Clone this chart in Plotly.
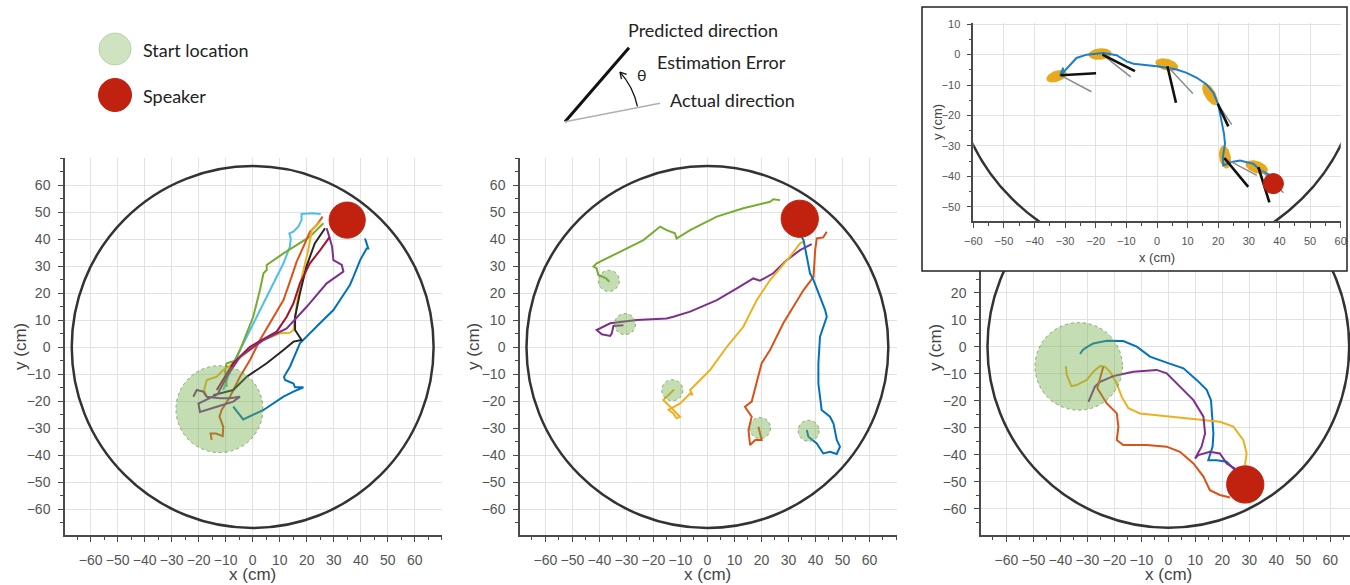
import numpy as np
import plotly.graph_objects as go

W, H = 1350, 585

# ---------------- DATA ----------------
ROOM_R = 67
# Panel 1 (single start area)
P1_START = (-12.3, -23.0, 16.1)   # cx, cy, r
P1_SPEAKER = (35.0, 47.0, 6.7)
P1_BLUE_X = [-7.2, -3.5, 4, 11.4, 15.1, 18.8, 15.7, 15.1, 12, 11.6, 13.8, 17.5, 24.9, 29.9, 34.8, 36, 37.3, 39.8, 42.2, 42.8, 42.2, 41.6]
P1_BLUE_Y = [-22.1, -26.8, -23.3, -18.4, -16.5, -14.9, -14.9, -13.5, -12.2, -11, -7.3, 1.4, 8.8, 13.7, 21.1, 23, 26, 32.2, 36.5, 36.5, 38.4, 40.2]
P1_LBLUE_X = [-10.9, -7.2, -2.2, 1.5, 6.4, 11.4, 13.8, 14.1, 13.6, 15.1, 16.9, 18.1, 18.1, 21.9, 25.2]
P1_LBLUE_Y = [-15.9, -6, 3.8, 11.2, 21.1, 31, 37.2, 40.2, 42.1, 42.7, 44.6, 47, 49.3, 49.5, 49.3]
P1_GREEN_X = [-9.6, -10.2, -9.6, -6.5, -4.7, 0.2, 2.7, 4, 5.2, 5.2, 11.4, 17.5, 21.2, 24.3, 26.2]
P1_GREEN_Y = [-14.7, -8.5, -6, -5.1, -1.1, 11.2, 21.1, 27.3, 28.5, 30.4, 34.7, 38.4, 40.9, 44, 45.8]
P1_ORANGE_X = [-15.2, -15.6, -13.6, -11.1, -10.9, -12.3, -11.5, -8.4, -4.7, -1, 2.7, 7.7, 11.4, 13.8, 16.3, 18.8, 21.2, 23.7, 25.9]
P1_ORANGE_Y = [-34.4, -32, -32, -33, -29.5, -25.8, -23.3, -18.4, -11, -4.8, 2.6, 11.2, 17.4, 24.2, 31.6, 37.2, 42.7, 45.2, 48.3]
P1_YELLOW_X = [-17, -18, -17, -13.3, -10.9, -7.2, -1, 4, 10.1, 13.8, 15.1, 15.7, 16.9, 18.8, 20.6, 21.9, 25]
P1_YELLOW_Y = [-18.4, -15.9, -12.2, -11, -8.5, -6, -1.1, 2.6, 5.1, 5.3, 6.3, 11.2, 19.9, 28.5, 35.9, 43.3, 46.4]
P1_BLACK_X = [-14.6, -7.2, -2.2, 5.2, 11.4, 15.1, 18.1, 16.9, 15.7, 15.7, 17.5, 19.9, 23, 26.8]
P1_BLACK_Y = [-17.8, -15.9, -11, -6, -1.1, 2, 2.6, 4.4, 6.3, 11.2, 19.9, 29.8, 38.4, 44]
P1_DRED_X = [-13.3, -7.2, -1, 5.2, 8.9, 12.6, 15.1, 17.5, 21.2, 25, 28.6]
P1_DRED_Y = [-15.9, -6, 0.1, 3.8, 5.7, 11.2, 16.2, 23.6, 31, 35.9, 40.9]
P1_PURPLE_X = [-22, -20.7, -18.3, -17, -12.1, -8.4, -4.7, -7.2, -13.3, -19.5, -20.1, -13, -9.6, -4.7, 4, 12.6, 20, 27.4, 33.6, 33, 29.9, 29.4, 28, 27.4]
P1_PURPLE_Y = [-18.4, -15.9, -16.5, -18.4, -19, -19, -18.4, -20.2, -22.1, -24, -20.9, -17.5, -11, -3.6, 2.6, 6.9, 14.9, 23.6, 27.9, 30.4, 32.2, 37.2, 42.1, 44]

# Panel 2 (several start points)
P2_STARTS_X = [-36.5, -30.5, -13, 19.5, 37.5]
P2_STARTS_Y = [24.5, 8.5, -16, -30, -31]
P2_START_R = 3.9
P2_SPEAKER = (34.2, 47.5, 6.9)
P2_GREEN_X = [-36.3, -37.5, -40.4, -41, -42.2, -41, -31.1, -23.7, -17.5, -15.1, -12, -11.4, -6.4, 3.5, 13.3, 23.2, 24.4, 26.9]
P2_GREEN_Y = [24.2, 25.4, 26.7, 29.1, 29.8, 31, 35.9, 39.6, 44.6, 43.3, 42.1, 40.2, 43.3, 48.3, 51.4, 53.8, 54.7, 54.4]
P2_PURPLE_X = [-31.1, -34.8, -35.4, -36, -39.1, -40.4, -41, -36, -26.2, -15.1, -12.6, -6.4, 3.5, 10.9, 17, 19.5, 24.4, 29.4, 34.3, 38.6]
P2_PURPLE_Y = [8.1, 7.8, 5.1, 4.1, 4.7, 5.7, 6.3, 8.8, 10, 10.6, 11.2, 13.1, 17.4, 21.7, 25.4, 24.6, 27.3, 32.2, 35.9, 38.1]
P2_YELLOW_X = [-12.3, -16.3, -13.8, -10.1, -11.4, -12.6, -14.4, -10.1, -6.4, -5.5, -6.4, 1, 7.2, 13.3, 18.3, 23.2, 30.6, 34.3, 35.6]
P2_YELLOW_Y = [-15.7, -19.6, -22.1, -25.8, -26.4, -24.6, -23.3, -20.9, -17.2, -17.8, -15.9, -8.5, 0.1, 7.5, 17.4, 24.8, 33.5, 38.4, 39]
P2_ORANGE_X = [18.9, 20.1, 17.7, 15.8, 15.2, 16.4, 13.9, 16.4, 20.1, 23.2, 28.1, 35.6, 39.3, 39.9, 40.5, 42.9, 44.2]
P2_ORANGE_Y = [-29.5, -34.4, -34.4, -36.3, -30.7, -25.8, -22.1, -20.2, -6, -1.1, 8.8, 21.1, 26, 35.9, 40.2, 40.6, 42.7]
P2_BLUE_X = [36.8, 37.4, 40.5, 42.9, 45.4, 47.9, 49.1, 47.9, 46.7, 45.4, 42.3, 41.1, 41.1, 41.7, 44.2, 43.6, 39.3, 38, 36.8, 35.6, 35]
P2_BLUE_Y = [-30.7, -33.2, -35.7, -39.4, -38.8, -39.6, -36.9, -34.4, -28.3, -25.8, -23.3, -13.5, -6, 3.8, 11.2, 13.7, 24.8, 27.3, 33.5, 39.6, 40.6]

# Panel 3
P3_START = (-33.2, -7.3, 16.2)
P3_SPEAKER = (28.5, -51.0, 6.9)
P3_BLUE_X = [-32.7, -31.7, -30.2, -27.8, -22.8, -16.7, -11.7, -6.8, -0.6, 5.6, 10.5, 14.2, 15.8, 16.2, 16.7, 16.4, 14.8, 17.9, 21.6, 24.7, 26.5]
P3_BLUE_Y = [-2.7, -1.2, -0.2, 1.2, 2.2, 2.1, 0, -3.7, -5.9, -8, -12.3, -16, -19.8, -24.7, -32.1, -37, -42, -42, -42.6, -45.7, -46.9]
P3_YELLOW_X = [-38, -37.6, -35.9, -34, -30.2, -27.8, -25.3, -23.5, -21.6, -19.1, -17.3, -14.8, -10.5, 1.9, 14.2, 19.1, 24.1, 27.8, 29, 28.4]
P3_YELLOW_Y = [-7.2, -10.5, -14.6, -14.2, -12.3, -9.3, -7.2, -7.4, -9.3, -13.6, -18.5, -22.8, -24.7, -25.9, -27.2, -27.8, -29.6, -34.6, -39.5, -43.8]
P3_PURPLE_X = [-29.6, -28.4, -27.2, -25.3, -20.4, -13, -4.3, -0.6, 4.3, 9.3, 13, 13.6, 12.3, 9.9, 11.1, 15.4, 19.1, 21.6, 24.7]
P3_PURPLE_Y = [-20.4, -17.3, -14.8, -13, -10.9, -9.3, -8.6, -9.9, -14.8, -19.8, -25.9, -32.1, -37, -41.4, -40.1, -38.9, -39.5, -43.2, -45.1]
P3_ORANGE_X = [-24.1, -26.3, -22.8, -19.1, -18.5, -19.1, -16.7, -8, -0.6, 4.3, 9.3, 13, 15.4, 19.1, 22.8]
P3_ORANGE_Y = [-7.4, -15.4, -21, -24.7, -29.6, -34.6, -36.4, -36.4, -37, -38.9, -43.2, -48.1, -53.1, -54.9, -55.8]

# Inset
IN_BLUE_X = [-31.7, -30.6, -31.2, -29.5, -27.9, -26.3, -23, -20.3, -17.5, -13.2, -9.9, -7.7, -4.5, -0.1, 3.2, 6.4, 9.7, 13, 16.2, 18.4, 20, 21.1, 21.9, 22.2, 21.5, 21.7, 24.4, 27.1, 31.5, 33.7, 35.9, 38]
IN_BLUE_Y = [-7.1, -4.3, -6.5, -4.5, -2.7, -1.1, 0, 0.2, 0.5, -0.2, -2.2, -3, -3.3, -3.8, -4.3, -4.9, -6, -7.6, -9.8, -12.5, -16.3, -21.7, -26.1, -29.3, -33.7, -36.4, -35.3, -34.8, -35.9, -38, -39.1, -40.2]
EST_X0 = [-31.5, -17.8, 3.4, 19.8, 22.0, 33.1]
EST_Y0 = [-6.8, 0.0, -3.8, -16.1, -34.0, -37.0]
PRED_X1 = [-19.9, -7.2, 6.2, 23.3, 29.8, 36.7]
PRED_Y1 = [-6.1, -5.4, -15.8, -23.6, -43.5, -48.6]
ACT_X1 = [-21.4, -8.6, 11.7, 24.4, 32.6, 41.3]
ACT_Y1 = [-12.2, -7.3, -12.8, -23.0, -39.7, -45.4]
ELL_X = [-32.8, -18.6, 3.2, 17.3, 22.2, 32.6]
ELL_Y = [-7.1, 0.2, -3.3, -13.0, -33.7, -37.0]
ELL_A = [3.5, 3.8, 3.8, 4.0, 3.8, 3.8]
ELL_B = [1.8, 1.9, 1.9, 1.8, 1.9, 2.0]
ELL_ANG = [20, 5, -15, -60, -80, -20]
IN_SPEAKER = (38.0, -42.4, 3.3)

MAJOR_TICKS = list(range(-60, 61, 10))

C = dict(blue="#0072BD", orange="#D95319", yellow="#EDB120", purple="#7E2F8E",
         green="#77AC30", lblue="#4DBEEE", dred="#A2142F", black="#262626")
RED = "#C1210F"
START_FILL = "rgba(115,175,75,0.42)"
START_LINE = "rgba(95,140,70,0.7)"
AX = "#4a4a4a"
TICKC = "#555555"
GRID = "#e2e2e2"

def px(x):
    return x / W

def py(y):
    return 1 - y / H

fig = go.Figure()

def add_line(xs, ys, color, xa, ya, width=2.0):
    fig.add_trace(go.Scatter(x=xs, y=ys, mode="lines", line=dict(color=color, width=width),
                             xaxis=xa, yaxis=ya, hoverinfo="skip", showlegend=False))

# panel 1
for k, xs, ys in [("blue", P1_BLUE_X, P1_BLUE_Y), ("lblue", P1_LBLUE_X, P1_LBLUE_Y),
                  ("green", P1_GREEN_X, P1_GREEN_Y), ("orange", P1_ORANGE_X, P1_ORANGE_Y),
                  ("yellow", P1_YELLOW_X, P1_YELLOW_Y), ("black", P1_BLACK_X, P1_BLACK_Y),
                  ("dred", P1_DRED_X, P1_DRED_Y), ("purple", P1_PURPLE_X, P1_PURPLE_Y)]:
    add_line(xs, ys, C[k], "x", "y")
# panel 2
for k, xs, ys in [("green", P2_GREEN_X, P2_GREEN_Y), ("purple", P2_PURPLE_X, P2_PURPLE_Y),
                  ("yellow", P2_YELLOW_X, P2_YELLOW_Y), ("orange", P2_ORANGE_X, P2_ORANGE_Y),
                  ("blue", P2_BLUE_X, P2_BLUE_Y)]:
    add_line(xs, ys, C[k], "x2", "y2")
# panel 3
for k, xs, ys in [("blue", P3_BLUE_X, P3_BLUE_Y), ("yellow", P3_YELLOW_X, P3_YELLOW_Y),
                  ("purple", P3_PURPLE_X, P3_PURPLE_Y), ("orange", P3_ORANGE_X, P3_ORANGE_Y)]:
    add_line(xs, ys, C[k], "x3", "y3")

# inset ellipses
t = np.linspace(0, 2 * np.pi, 60)
for cx, cy, a, b, ang in zip(ELL_X, ELL_Y, ELL_A, ELL_B, ELL_ANG):
    th = np.deg2rad(ang)
    ex = cx + a * np.cos(t) * np.cos(th) - b * np.sin(t) * np.sin(th)
    ey = cy + a * np.cos(t) * np.sin(th) + b * np.sin(t) * np.cos(th)
    fig.add_trace(go.Scatter(x=ex, y=ey, mode="lines", fill="toself", fillcolor="#E9A91C",
                             line=dict(width=0, color="#E9A91C"), xaxis="x4", yaxis="y4",
                             hoverinfo="skip", showlegend=False))
add_line(IN_BLUE_X, IN_BLUE_Y, "#1A7FC8", "x4", "y4", 2)

def seg(x0, y0, x1, y1):
    xs, ys = [], []
    for a, b, c, d in zip(x0, y0, x1, y1):
        xs += [a, c, None]
        ys += [b, d, None]
    return xs, ys

gx, gy = seg(EST_X0, EST_Y0, ACT_X1, ACT_Y1)
add_line(gx, gy, "#8c8c8c", "x4", "y4", 1.5)
bx, by = seg(EST_X0, EST_Y0, PRED_X1, PRED_Y1)
add_line(bx, by, "#111111", "x4", "y4", 2.6)

# ---------------- axes ----------------
def axis(domain, rng, anchor, tickvals, fs=14, standoff=6):
    return dict(domain=domain, range=rng, anchor=anchor, tickmode="array", tickvals=tickvals,
                automargin=False,
                showgrid=True, gridcolor=GRID, gridwidth=1, zeroline=False,
                showline=True, linecolor=AX, linewidth=1.5,
                ticks="outside", ticklen=5, tickwidth=1.4, tickcolor=AX,
                ticklabelstandoff=standoff,
                tickfont=dict(family="Liberation Sans", size=fs, color=TICKC),
                minor=dict(tickmode="linear", tick0=0, dtick=5, ticks="outside", ticklen=3,
                           tickwidth=1.2, tickcolor=AX, showgrid=False),
                fixedrange=True)

Y_DOM = [py(535), py(158)]
fig.update_layout(
    xaxis=axis([px(65), px(441.7)], [-69.5, 70], "y", MAJOR_TICKS),
    yaxis=axis(Y_DOM, [-69.6, 70], "x", MAJOR_TICKS, standoff=5),
    xaxis2=axis([px(520), px(896.7)], [-69.4, 70.1], "y2", MAJOR_TICKS),
    yaxis2=axis(Y_DOM, [-69.6, 70], "x2", MAJOR_TICKS, standoff=5),
    xaxis3=axis([px(981), 1.0], [-69.4, 67.3], "y3", MAJOR_TICKS),
    yaxis3=axis([py(535), py(271)], [-69.7, 28.0], "x3", list(range(-60, 21, 10)), standoff=5),
    xaxis4=axis([px(973.3), px(1340.7)], [-60, 60], "y4", MAJOR_TICKS, fs=11, standoff=4),
    yaxis4=axis([py(221), py(22.7)], [-54.7, 10.5], "x4", list(range(-50, 11, 10)), fs=11, standoff=4),
)

shapes = []
# inset box background
shapes.append(dict(type="rect", xref="paper", yref="paper", x0=px(922), x1=px(1347), y0=py(271), y1=py(7),
                   fillcolor="white", line=dict(width=0), layer="below"))
shapes.append(dict(type="rect", xref="paper", yref="paper", x0=px(922), x1=px(1347), y0=py(271), y1=py(7),
                   fillcolor="rgba(0,0,0,0)", line=dict(color="#222", width=1.5), layer="above"))

def circ(xr, yr, cx, cy, r, fill, line_color, lw=1, dash="solid", layer="above"):
    return dict(type="circle", xref=xr, yref=yr, x0=cx - r, x1=cx + r, y0=cy - r, y1=cy + r,
                fillcolor=fill, line=dict(color=line_color, width=lw, dash=dash), layer=layer)

for xr, yr in [("x", "y"), ("x2", "y2"), ("x3", "y3"), ("x4", "y4")]:
    shapes.append(circ(xr, yr, 0, 0, ROOM_R, "rgba(0,0,0,0)", "#333333", 2.5))

shapes.append(circ("x", "y", *P1_START, START_FILL, START_LINE, 1, "dot"))
shapes.append(circ("x", "y", *P1_SPEAKER, RED, RED, 1))
for cx, cy in zip(P2_STARTS_X, P2_STARTS_Y):
    shapes.append(circ("x2", "y2", cx, cy, P2_START_R, START_FILL, START_LINE, 1, "dot"))
shapes.append(circ("x2", "y2", *P2_SPEAKER, RED, RED, 1))
shapes.append(circ("x3", "y3", *P3_START, START_FILL, START_LINE, 1, "dot"))
shapes.append(circ("x3", "y3", *P3_SPEAKER, RED, RED, 1))
shapes.append(circ("x4", "y4", *IN_SPEAKER, RED, RED, 1))

# top-left legend markers (pixel positions -> paper)
def pcirc(cx, cy, r, fill, lc):
    return dict(type="circle", xref="paper", yref="paper", x0=px(cx - r), x1=px(cx + r),
                y0=py(cy + r), y1=py(cy - r), fillcolor=fill, line=dict(color=lc, width=1))

shapes.append(pcirc(115, 49, 16, "#cfe3c0", "#b9d3a7"))
shapes.append(pcirc(115, 95, 16.5, RED, RED))

# direction diagram
O = (565, 121.7)
shapes.append(dict(type="line", xref="paper", yref="paper", x0=px(O[0]), y0=py(O[1]),
                   x1=px(629), y1=py(47.7), line=dict(color="#111", width=3)))
shapes.append(dict(type="line", xref="paper", yref="paper", x0=px(O[0]), y0=py(O[1]),
                   x1=px(660), y1=py(103.3), line=dict(color="#b0b0b0", width=1.5)))
R_ARC, A0, A1 = 74, 12, 42
def arcpt(ang, r=R_ARC):
    a = np.deg2rad(ang)
    return O[0] + r * np.cos(a), O[1] - r * np.sin(a)
p0 = arcpt(A0)
p1 = arcpt(A1)
pc = arcpt((A0 + A1) / 2, R_ARC / np.cos(np.deg2rad((A1 - A0) / 2)))
shapes.append(dict(type="path", xref="paper", yref="paper",
                   path=f"M {px(p0[0])},{py(p0[1])} Q {px(pc[0])},{py(pc[1])} {px(p1[0])},{py(p1[1])}",
                   line=dict(color="#111", width=1.3)))
a1 = np.deg2rad(A1)
back = np.array([np.sin(a1), np.cos(a1)])  # pointing back along arc (screen coords)
for s in (-1, 1):
    rot = np.deg2rad(30 * s)
    v = np.array([back[0] * np.cos(rot) - back[1] * np.sin(rot), back[0] * np.sin(rot) + back[1] * np.cos(rot)])
    q = (p1[0] + 7 * v[0], p1[1] + 7 * v[1])
    shapes.append(dict(type="line", xref="paper", yref="paper", x0=px(p1[0]), y0=py(p1[1]),
                       x1=px(q[0]), y1=py(q[1]), line=dict(color="#111", width=1.3)))

ann = []
TXT = dict(family="Lato", size=18, color="#222")
def ptext(x, y, s, xanchor="left", size=18):
    ann.append(dict(xref="paper", yref="paper", x=px(x), y=py(y), text=s, showarrow=False,
                    xanchor=xanchor, yanchor="middle", font=dict(TXT, size=size)))

ptext(141, 50, "Start location")
ptext(141, 96, "Speaker")
ptext(626, 30, "Predicted direction")
ptext(655, 62, "Estimation Error")
ptext(668, 100, "Actual direction")
ptext(642, 74, "θ", "center", 16)

TF = dict(family="Liberation Sans", size=17, color="#444")
for xa in ["x", "x2", "x3"]:
    ann.append(dict(xref=xa, yref="paper", x=0, y=0, text="x (cm)", showarrow=False,
                    xanchor="center", yanchor="bottom", yshift=-1, font=TF))
for xp, yp in [(20, 347), (473, 347), (935, 347)]:
    ann.append(dict(xref="paper", yref="paper", x=px(xp), y=py(yp), text="y (cm)", showarrow=False,
                    textangle=-90, xanchor="center", yanchor="middle", font=TF))
ann.append(dict(xref="x4", yref="paper", x=0, y=py(257), text="x (cm)", showarrow=False,
                xanchor="center", yanchor="middle", font=dict(TF, size=13)))
ann.append(dict(xref="paper", yref="paper", x=px(937), y=py(122), text="y (cm)", showarrow=False,
                textangle=-90, xanchor="center", yanchor="middle", font=dict(TF, size=13)))

fig.update_layout(width=W, height=H, autosize=False, margin=dict(l=0, r=0, t=0, b=0, pad=0),
                  paper_bgcolor="white", plot_bgcolor="white", showlegend=False,
                  shapes=shapes, annotations=ann)

fig.write_html("out.html", config={"displayModeBar": False, "responsive": False},
               post_script="document.body.style.margin='0';document.body.style.overflow='hidden';")
